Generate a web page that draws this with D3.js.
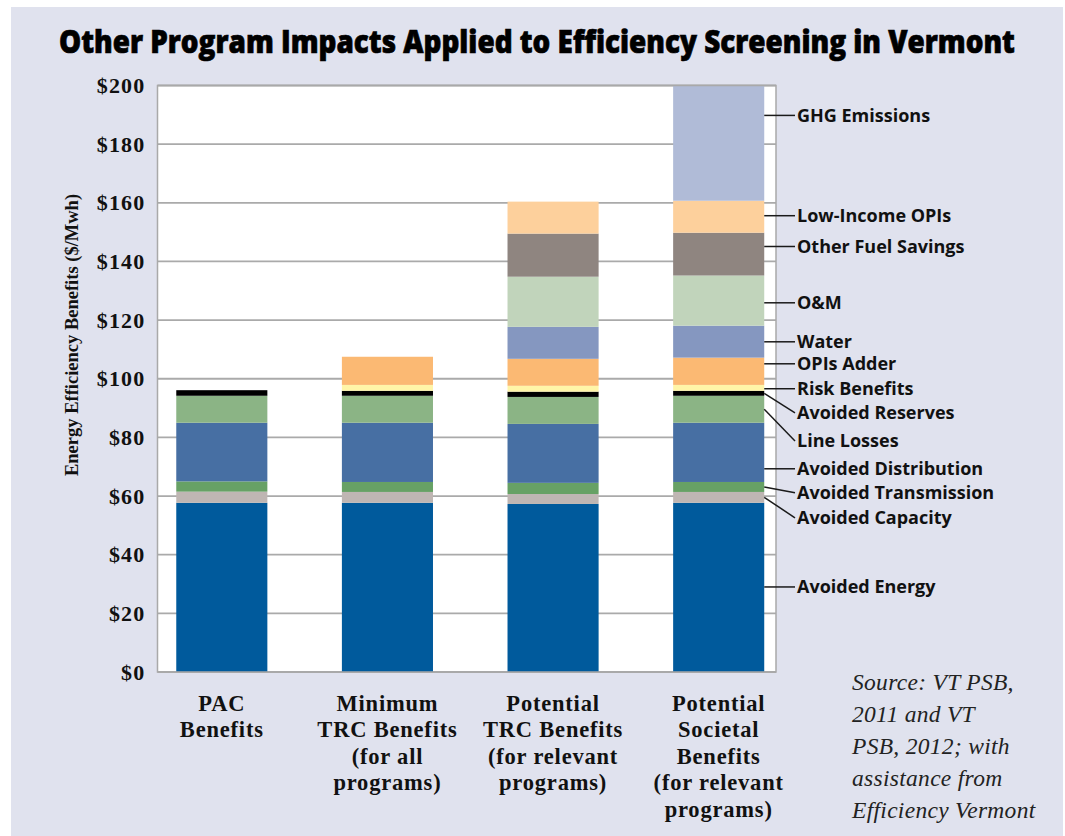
<!DOCTYPE html>
<html>
<head>
<meta charset="utf-8">
<script src="https://cdn.jsdelivr.net/npm/d3@7"></script>
<style>
  html, body { margin: 0; padding: 0; background: #fff; }
  svg { display: block; }
</style>
</head>
<body>
<svg id="chart"></svg>
<script>
// bars, left to right
const categories = ['PAC', 'Minimum TRC', 'Potential TRC', 'Potential Societal'];
const categoryLines = [
  ['PAC', 'Benefits'],
  ['Minimum', 'TRC Benefits', '(for all', 'programs)'],
  ['Potential', 'TRC Benefits', '(for relevant', 'programs)'],
  ['Potential', 'Societal', 'Benefits', '(for relevant', 'programs)'],
];

// stack order, bottom to top
const components = [
  'Avoided Energy', 'Avoided Capacity', 'Avoided Transmission', 'Avoided Distribution',
  'Line Losses', 'Avoided Reserves', 'Risk Benefits', 'OPIs Adder', 'Water', 'O&M',
  'Other Fuel Savings', 'Low-Income OPIs', 'GHG Emissions',
];

// $/MWh per bar
const avoidedEnergy       = [57.7, 57.7, 57.3, 57.7];
const avoidedCapacity     = [3.8, 3.7, 3.4, 3.7];
const avoidedTransmission = [3.5, 3.4, 3.8, 3.4];
const avoidedDistribution = [20.0, 20.2, 20.1, 20.2];
const lineLosses          = [9.2, 9.2, 9.2, 9.2];
const avoidedReserves     = [1.9, 1.7, 1.8, 1.7];
const riskBenefits        = [0, 2.0, 2.0, 2.0];
const opisAdder           = [0, 9.6, 9.2, 9.3];
const water               = [0, 0, 10.9, 10.9];
const oAndM               = [0, 0, 17.1, 17.1];
const otherFuelSavings    = [0, 0, 14.7, 14.6];
const lowIncomeOpis       = [0, 0, 10.9, 10.9];
const ghgEmissions        = [0, 0, 0, 39.3];

const yTicks = [0, 20, 40, 60, 80, 100, 120, 140, 160, 180, 200];
const sourceLines = ['Source: VT PSB,', '2011 and VT', 'PSB, 2012; with', 'assistance from', 'Efficiency Vermont'];

const series = [avoidedEnergy, avoidedCapacity, avoidedTransmission, avoidedDistribution,
  lineLosses, avoidedReserves, riskBenefits, opisAdder, water, oAndM,
  otherFuelSavings, lowIncomeOpis, ghgEmissions];

const colors = ['#005a9c', '#bfb6b3', '#67a165', '#476fa3', '#8bb485', '#000000',
  '#fff5a8', '#fbb973', '#8597c0', '#c1d4bb', '#8f8580', '#fdd09c', '#b0bbd7'];

// where each right-hand label sits, in $ units (layout only)
const labelAt = [29.0, 52.6, 61.1, 69.3, 78.8, 88.4, 96.6, 105.1, 112.6, 125.9, 145.1, 155.6, 189.8];

const W = 1065, H = 836;
const plot = { left: 157.5, right: 776, top: 85.5, bottom: 672 };

const svg = d3.select('#chart').attr('width', W).attr('height', H);

svg.append('rect').attr('width', W).attr('height', H).attr('fill', '#fff');
svg.append('rect').attr('x', 11).attr('y', 7).attr('width', W - 13).attr('height', H - 7).attr('fill', '#e0e2ee');

// title: squeeze horizontally to the reference width
const title = svg.append('text')
  .attr('font-family', '"Open Sans", sans-serif').attr('font-weight', 800)
  .attr('font-size', 31).attr('fill', '#000')
  .attr('stroke', '#000').attr('stroke-width', 0.7)
  .text('Other Program Impacts Applied to Efficiency Screening in Vermont');
const titleW = title.node().getComputedTextLength();
title.attr('transform', `translate(59,53) scale(${956 / titleW},1)`);

const y = d3.scaleLinear().domain([0, 200]).range([plot.bottom, plot.top]);
const x = d3.scaleBand().domain(categories).range([139, 801.5])
  .paddingInner(0.45).paddingOuter(0.225);

// plot background
svg.append('rect')
  .attr('x', plot.left).attr('y', plot.top)
  .attr('width', plot.right - plot.left).attr('height', plot.bottom - plot.top)
  .attr('fill', '#fff');

// gridlines
svg.append('g').selectAll('line').data(yTicks).join('line')
  .attr('x1', plot.left).attr('x2', plot.right)
  .attr('y1', (d) => y(d)).attr('y2', (d) => y(d))
  .attr('stroke', '#aaa').attr('stroke-width', 1.8);

// y tick labels
const yAxis = svg.append('g').attr('transform', `translate(${plot.left},0)`)
  .call(d3.axisLeft(y).tickValues(yTicks).tickSize(0).tickPadding(12).tickFormat((d) => '$' + d));
yAxis.select('.domain').remove();
yAxis.selectAll('text')
  .attr('font-family', '"Liberation Serif", serif').attr('font-weight', 'bold')
  .attr('font-size', 22).attr('letter-spacing', 1.2).attr('fill', '#111');

svg.append('text')
  .attr('transform', 'translate(78,335) rotate(-90)')
  .attr('text-anchor', 'middle')
  .attr('font-family', '"Liberation Serif", serif').attr('font-weight', 'bold')
  .attr('font-size', 18.5).attr('fill', '#111')
  .text('Energy Efficiency Benefits ($/Mwh)');

// stacked bars
const table = categories.map((c, i) => {
  const row = { category: c };
  components.forEach((k, j) => { row[k] = series[j][i]; });
  return row;
});
const stacked = d3.stack().keys(components)(table);

svg.append('g').selectAll('g').data(stacked).join('g')
  .attr('fill', (d, i) => colors[i])
  .selectAll('rect').data((d) => d.filter((s) => s[1] - s[0] > 0)).join('rect')
  .attr('x', (d) => x(d.data.category))
  .attr('width', x.bandwidth())
  .attr('y', (d) => y(d[1]))
  .attr('height', (d) => y(d[0]) - y(d[1]));

// plot frame
svg.append('rect')
  .attr('x', plot.left).attr('y', plot.top)
  .attr('width', plot.right - plot.left).attr('height', plot.bottom - plot.top)
  .attr('fill', 'none').attr('stroke', '#a9a9a9').attr('stroke-width', 1.5);

// right-hand labels with leader lines off the last bar
const last = categories[categories.length - 1];
const barEnd = x(last) + x.bandwidth();
const lineEnd = 795;
const labels = svg.append('g');
stacked.forEach((s, i) => {
  const seg = s[categories.length - 1];
  const ly = y(labelAt[i]);
  const inside = labelAt[i] >= seg[0] && labelAt[i] <= seg[1];
  const sy = inside ? ly : y((seg[0] + seg[1]) / 2);
  labels.append('line')
    .attr('x1', barEnd).attr('y1', sy).attr('x2', lineEnd).attr('y2', ly)
    .attr('stroke', '#1a1a1a').attr('stroke-width', 1.5);
  labels.append('text')
    .attr('x', lineEnd + 2).attr('y', ly).attr('dy', '0.35em')
    .attr('font-family', '"Open Sans", sans-serif').attr('font-weight', 'bold')
    .attr('font-size', 18).attr('fill', '#111')
    .text(components[i]);
});

// category labels
const catG = svg.append('g')
  .attr('font-family', '"Liberation Serif", serif').attr('font-weight', 'bold')
  .attr('font-size', 22.5).attr('letter-spacing', 0.8).attr('fill', '#111')
  .attr('text-anchor', 'middle');
categories.forEach((c, i) => {
  categoryLines[i].forEach((t, k) => {
    catG.append('text')
      .attr('x', x(c) + x.bandwidth() / 2).attr('y', 703 + k * 26.5).attr('dy', '0.35em')
      .text(t);
  });
});

// source note
const srcG = svg.append('g')
  .attr('font-family', '"Liberation Serif", serif').attr('font-style', 'italic')
  .attr('font-size', 23.5).attr('letter-spacing', 0.3).attr('fill', '#222');
sourceLines.forEach((t, k) => {
  srcG.append('text').attr('x', 852).attr('y', 682 + k * 32).attr('dy', '0.35em').text(t);
});
</script>
</body>
</html>
